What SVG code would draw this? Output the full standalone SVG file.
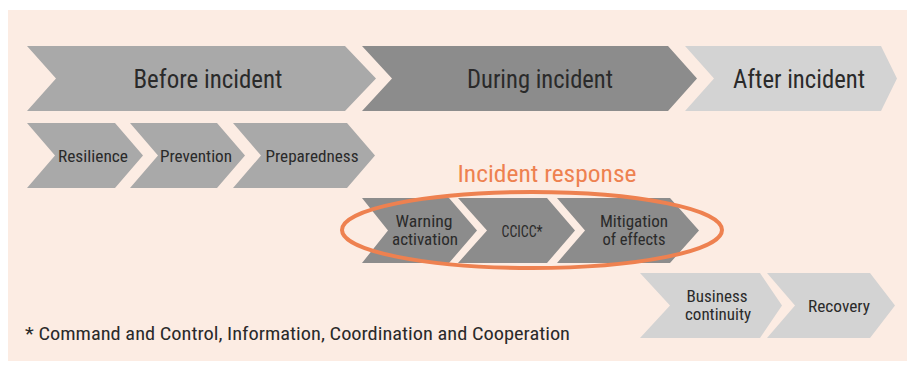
<svg xmlns="http://www.w3.org/2000/svg" width="907" height="367" viewBox="0 0 907 367">
  <style>
    .t { font-family: "Liberation Sans Narrow", "Roboto Condensed", "Liberation Sans", sans-serif; fill: #2a2a2a; text-anchor: middle; }
    .big { font-size: 25px; }
    .mid { font-size: 17px; }
    .sm { font-size: 16px; }
    .g1 { fill: #a9a9a9; }
    .g2 { fill: #8c8c8c; }
    .g3 { fill: #d3d3d3; }
  </style>
  <rect x="0" y="0" width="907" height="367" fill="#ffffff"/>
  <rect x="8" y="10" width="899" height="351" fill="#fcece3"/>

  <g id="before-incident">
    <path class="g1" d="M27,46 H345 L376,78.5 L345,111 H27 L56,78.5 Z"/>
    <text class="t big" x="208" y="88" textLength="149" lengthAdjust="spacingAndGlyphs">Before incident</text>
  </g>
  <g id="during-incident">
    <path class="g2" d="M362,46 H668 L697,78.5 L668,111 H362 L392,78.5 Z"/>
    <text class="t big" x="540" y="88" textLength="146" lengthAdjust="spacingAndGlyphs">During incident</text>
  </g>
  <g id="after-incident">
    <path class="g3" d="M685,46 H881 L897,78.5 L881,111 H685 L714,78.5 Z"/>
    <text class="t big" x="799" y="88" textLength="132" lengthAdjust="spacingAndGlyphs">After incident</text>
  </g>

  <g id="resilience">
    <path class="g1" d="M27,123 H115 L143,155.5 L115,188 H27 L55,155.5 Z"/>
    <text class="t mid" x="93" y="162" textLength="70" lengthAdjust="spacingAndGlyphs">Resilience</text>
  </g>
  <g id="prevention">
    <path class="g1" d="M130,123 H217 L245,155.5 L217,188 H130 L158,155.5 Z"/>
    <text class="t mid" x="196" y="162" textLength="72" lengthAdjust="spacingAndGlyphs">Prevention</text>
  </g>
  <g id="preparedness">
    <path class="g1" d="M233,123 H347 L375,155.5 L347,188 H233 L261,155.5 Z"/>
    <text class="t mid" x="312" y="162" textLength="93" lengthAdjust="spacingAndGlyphs">Preparedness</text>
  </g>

  <g id="incident-response-label">
    <text class="t" x="547" y="182" font-size="23" style="fill:#ee8150" textLength="179" lengthAdjust="spacingAndGlyphs">Incident response</text>
  </g>

  <g id="warning-activation">
    <path class="g2" d="M362,198 H449 L477,230.5 L449,263 H362 L388,230.5 Z"/>
    <text class="t sm" x="424" y="227" textLength="57" lengthAdjust="spacingAndGlyphs">Warning</text>
    <text class="t sm" x="425" y="245" textLength="66" lengthAdjust="spacingAndGlyphs">activation</text>
  </g>
  <g id="ccicc">
    <path class="g2" d="M458,198 H547 L575,230.5 L547,263 H458 L487,230.5 Z"/>
    <text class="t sm" x="522" y="237" textLength="41" lengthAdjust="spacingAndGlyphs">CCICC*</text>
  </g>
  <g id="mitigation">
    <path class="g2" d="M557,198 H670 L699,230.5 L670,263 H557 L585,230.5 Z"/>
    <text class="t sm" x="634" y="227" textLength="68" lengthAdjust="spacingAndGlyphs">Mitigation</text>
    <text class="t sm" x="634" y="245" textLength="63" lengthAdjust="spacingAndGlyphs">of effects</text>
  </g>

  <g id="incident-response-ellipse">
    <ellipse cx="532" cy="230" rx="190" ry="38" fill="none" stroke="#ee8150" stroke-width="4"/>
  </g>

  <g id="business-continuity">
    <path class="g3" d="M640,273 H760 L782,305.5 L760,338 H640 L670,305.5 Z"/>
    <text class="t sm" x="717" y="302" textLength="61" lengthAdjust="spacingAndGlyphs">Business</text>
    <text class="t sm" x="718" y="320" textLength="66" lengthAdjust="spacingAndGlyphs">continuity</text>
  </g>
  <g id="recovery">
    <path class="g3" d="M767,273 H870 L895,305.5 L870,338 H767 L795,305.5 Z"/>
    <text class="t sm" x="839" y="312" textLength="62" lengthAdjust="spacingAndGlyphs">Recovery</text>
  </g>

  <g id="connectors"></g>

  <g id="footnote">
    <text class="t" x="25" y="340" font-size="18" style="text-anchor:start" textLength="545" lengthAdjust="spacingAndGlyphs">* Command and Control, Information, Coordination and Cooperation</text>
  </g>
</svg>
